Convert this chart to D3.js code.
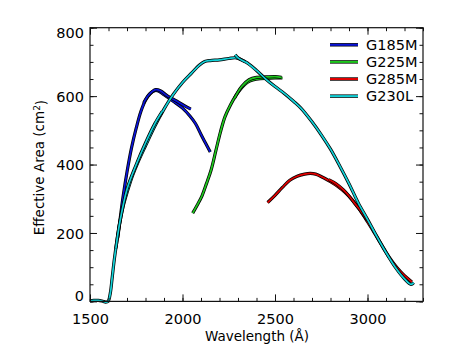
<!DOCTYPE html>
<html>
<head>
<meta charset="utf-8">
<script src="https://cdn.jsdelivr.net/npm/d3@7"></script>
<style>
  html, body { margin: 0; padding: 0; background: #ffffff; }
  svg { display: block; }
  text { font-family: "DejaVu Sans", sans-serif; fill: #000; }
</style>
</head>
<body>
<svg id="chart" width="450" height="359"></svg>
<script>
// ---------- data (wavelength Å, effective area cm²) ----------
const seriesNames = ["G185M", "G225M", "G285M", "G230L"];
const seriesColors = ["#0a14d8", "#1ec81e", "#e00000", "#12d2d8"];

const g185mMain = [[1650,185],[1665,250],[1680,310],[1700,378],[1725,450],[1750,507],[1775,555],[1800,588],[1825,607],[1850,616],[1870,615],[1900,604],[1950,585],[2000,565],[2040,542],[2070,520],[2100,488],[2125,462],[2150,437]];
const g185mBranch = [[1790,580],[1820,605],[1855,619],[1880,616],[1920,600],[1970,585],[2010,572],[2045,562]];

const g225mMain = [[2055,258],[2080,282],[2105,308],[2130,345],[2155,385],[2180,440],[2205,495],[2230,540],[2260,575],[2290,603],[2320,625],[2350,640],[2380,647],[2420,651],[2460,652],[2500,653],[2540,653]];
const g225mBranch = [[2280,593],[2320,628],[2360,648],[2400,655],[2450,656],[2500,657],[2535,655]];

const g285mMain = [[2460,289],[2500,310],[2540,333],[2580,354],[2620,366],[2660,372],[2690,374],[2720,372],[2760,362],[2800,350],[2840,336],[2880,318],[2920,295],[2960,266],[3000,233],[3040,198],[3080,162],[3120,127],[3160,98],[3200,75],[3240,57]];
const g285mBranch = [[2790,356],[2830,344],[2870,326],[2900,308],[2935,284],[2970,260],[3000,236]];

const g230lMain = [[1500,1],[1520,3],[1545,3],[1565,1],[1585,-2],[1598,0],[1610,25],[1620,70],[1632,125],[1645,175],[1662,233],[1680,280],[1700,318],[1730,368],[1760,408],[1800,455],[1850,512],[1900,562],[1950,605],[2000,640],[2050,668],[2090,690],[2120,701],[2150,704],[2200,706],[2250,710],[2290,712],[2320,706],[2350,697],[2400,675],[2450,650],[2500,628],[2550,608],[2600,585],[2640,565],[2700,525],[2750,487],[2800,445],[2850,396],[2900,344],[2950,288],[3000,240],[3050,190],[3100,143],[3150,100],[3200,66],[3235,50],[3250,55]];
const g230lBranch = [[1640,155],[1660,228],[1700,328],[1750,400],[1800,463],[1850,519],[1890,555]];
const g230lSpike = [[2285,721],[2300,712],[2340,700]];

const xTicks = [1500, 2000, 2500, 3000];
const yTicks = [0, 200, 400, 600, 800];

// ---------- setup ----------
const svg = d3.select("#chart");
const x = d3.scaleLinear().domain([1500, 3300]).range([90, 423]);
const y = d3.scaleLinear().domain([0, 800]).range([301.4, 27.7]);

const series = [
  { name: seriesNames[0], color: seriesColors[0], segs: [g185mMain, g185mBranch] },
  { name: seriesNames[1], color: seriesColors[1], segs: [g225mMain, g225mBranch] },
  { name: seriesNames[2], color: seriesColors[2], segs: [g285mMain, g285mBranch] },
  { name: seriesNames[3], color: seriesColors[3], segs: [g230lMain, g230lBranch, g230lSpike] }
];

const line = d3.line().x(d => x(d[0])).y(d => y(d[1])).curve(d3.curveCatmullRom.alpha(0.5));

const plot = svg.append("g");
series.forEach(s => {
  s.segs.forEach(seg => {
    plot.append("path").attr("d", line(seg)).attr("fill", "none")
      .attr("stroke", "#000").attr("stroke-width", 3.2).attr("stroke-linejoin", "round");
    plot.append("path").attr("d", line(seg)).attr("fill", "none")
      .attr("stroke", s.color).attr("stroke-width", 1.7).attr("stroke-linejoin", "round");
  });
});

// ---------- axes (IDL style: inward ticks on all four sides) ----------
const axisColor = "#111";
const xMinor = d3.range(1500, 3301, 100);
const yMinor = d3.range(0, 801, 50);

function styleAxis(g) {
  g.select(".domain").remove();
  g.selectAll("line").attr("stroke", axisColor).attr("stroke-width", 1);
}

// minor ticks
svg.append("g").attr("transform", `translate(0,${y(0)})`)
  .call(d3.axisBottom(x).tickValues(xMinor).tickSize(-3.5).tickFormat(""))
  .call(styleAxis);
svg.append("g").attr("transform", `translate(0,${y(800)})`)
  .call(d3.axisTop(x).tickValues(xMinor).tickSize(-3.5).tickFormat(""))
  .call(styleAxis);
svg.append("g").attr("transform", `translate(${x(1500)},0)`)
  .call(d3.axisLeft(y).tickValues(yMinor).tickSize(-3.5).tickFormat(""))
  .call(styleAxis);
svg.append("g").attr("transform", `translate(${x(3300)},0)`)
  .call(d3.axisRight(y).tickValues(yMinor).tickSize(-3.5).tickFormat(""))
  .call(styleAxis);

// major ticks with labels
const xAxisG = svg.append("g").attr("transform", `translate(0,${y(0)})`)
  .call(d3.axisBottom(x).tickValues(xTicks).tickSize(-7).tickPadding(0).tickFormat(d3.format("d")))
  .call(styleAxis);
xAxisG.selectAll("text").attr("y", 0).attr("dy", 0).attr("transform", "translate(0,23)")
  .style("font-size", "14.5px").attr("fill", "#000");

svg.append("g").attr("transform", `translate(0,${y(800)})`)
  .call(d3.axisTop(x).tickValues(xTicks).tickSize(-7).tickFormat(""))
  .call(styleAxis);

const yAxisG = svg.append("g").attr("transform", `translate(${x(1500)},0)`)
  .call(d3.axisLeft(y).tickValues(yTicks).tickSize(-7).tickFormat(d3.format("d")))
  .call(styleAxis);
yAxisG.selectAll("text").attr("x", -6).attr("dy", d => d === 0 ? "-0.05em" : (d === 800 ? "0.65em" : "0.35em"))
  .style("font-size", "14.5px").attr("fill", "#000");

svg.append("g").attr("transform", `translate(${x(3300)},0)`)
  .call(d3.axisRight(y).tickValues(yTicks).tickSize(-7).tickFormat(""))
  .call(styleAxis);

// frame
svg.append("rect").attr("x", x(1500)).attr("y", y(800))
  .attr("width", x(3300) - x(1500)).attr("height", y(0) - y(800))
  .attr("fill", "none").attr("stroke", axisColor).attr("stroke-width", 1.2);

// axis titles
svg.append("text").attr("x", (x(1500) + x(3300)) / 2 + 0.5).attr("y", 341)
  .attr("text-anchor", "middle").style("font-size", "13.5px").text("Wavelength (Å)");

const yt = svg.append("text").attr("transform", `translate(44,${(y(0) + y(800)) / 2 + 3}) rotate(-90)`)
  .attr("text-anchor", "middle").style("font-size", "13.5px");
yt.append("tspan").text("Effective Area (cm");
yt.append("tspan").attr("dy", "-0.45em").style("font-size", "9px").text("2");
yt.append("tspan").attr("dy", "0.45em").text(")");

// legend
const legend = svg.append("g");
series.forEach((s, i) => {
  const ly = y(750 - 50 * i);
  legend.append("line").attr("x1", 330).attr("x2", 358).attr("y1", ly).attr("y2", ly)
    .attr("stroke", "#000").attr("stroke-width", 3.4);
  legend.append("line").attr("x1", 330).attr("x2", 358).attr("y1", ly).attr("y2", ly)
    .attr("stroke", s.color).attr("stroke-width", 2);
  legend.append("text").attr("x", 366).attr("y", ly).attr("dy", "0.36em")
    .style("font-size", "14.5px").text(s.name);
});
</script>
</body>
</html>
